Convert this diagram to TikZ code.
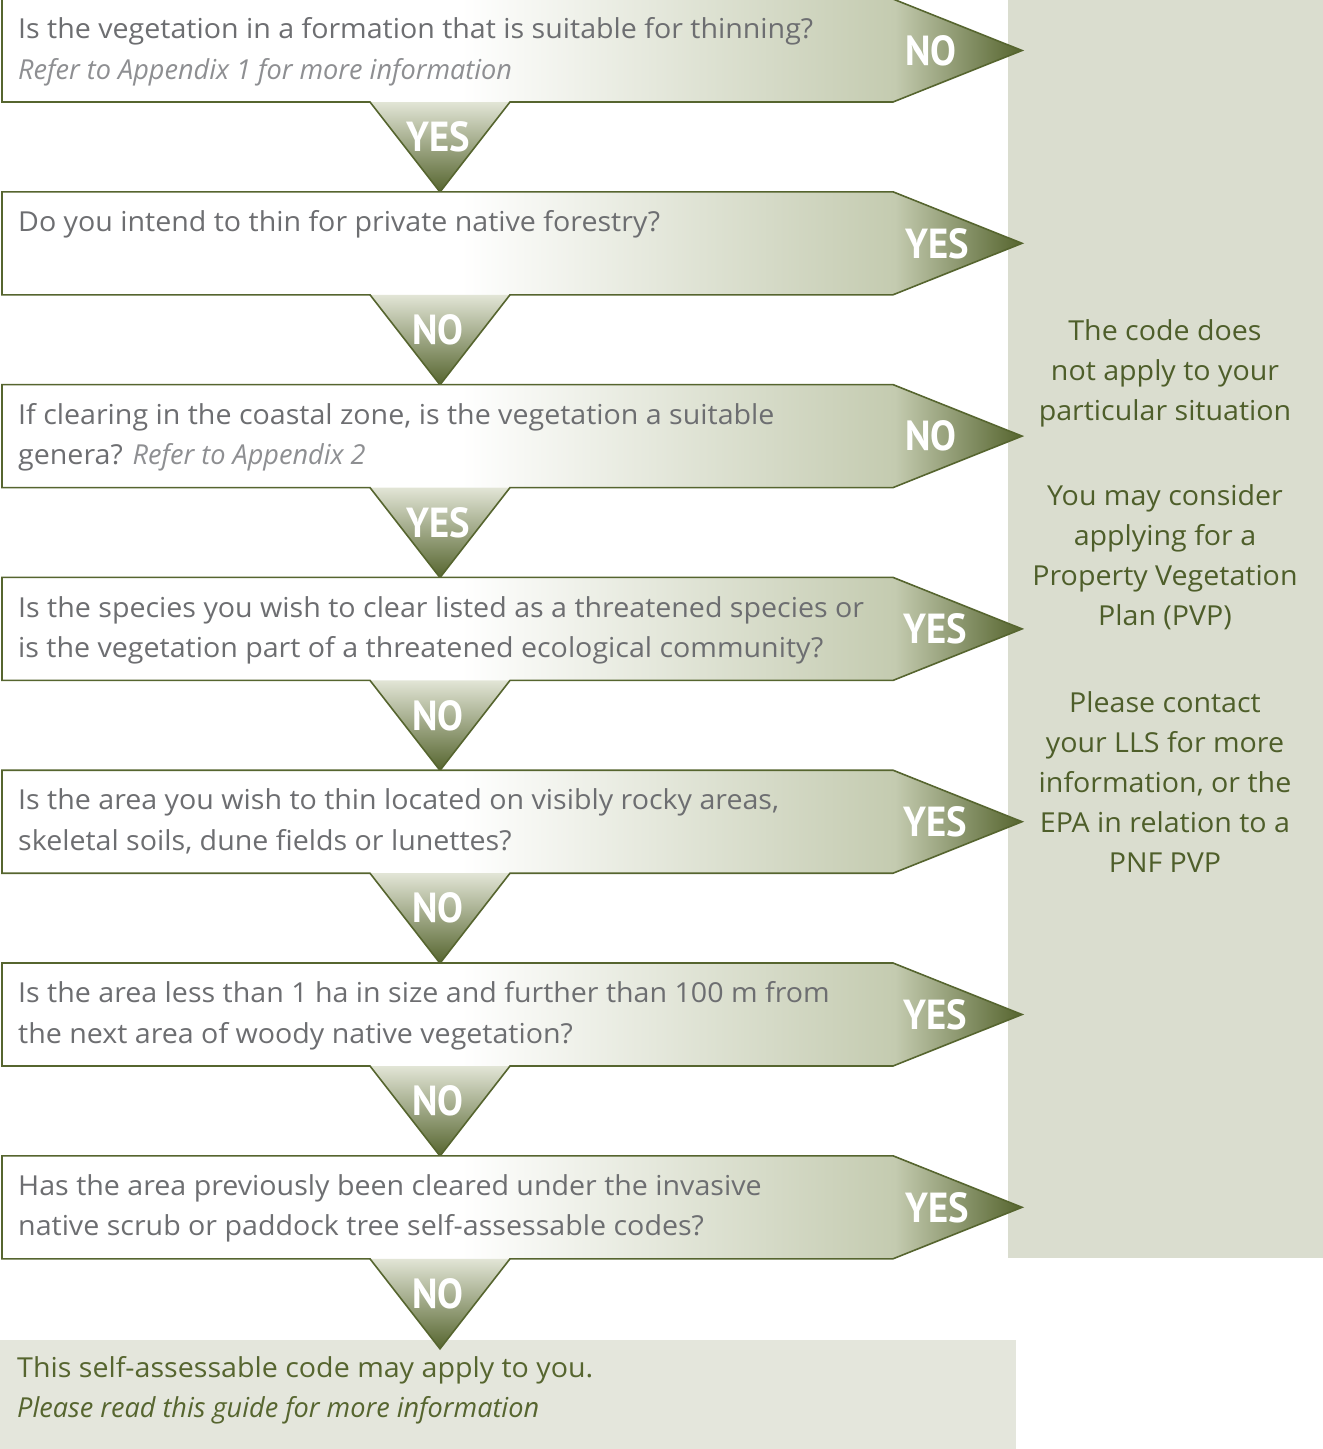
\documentclass[tikz,border=0pt]{standalone}
\usepackage{fontspec}
\setmainfont{Open Sans}[FakeStretch=1.04, ItalicFeatures={FakeStretch=0.985}]
\newfontfamily\tagfont[FakeStretch=0.92]{PT Sans}
\usetikzlibrary{calc}

\definecolor{olive}{HTML}{56652F}
\definecolor{oliveLight}{HTML}{C4CBB0}
\definecolor{notchtop}{HTML}{E2E5D6}
\definecolor{panel}{HTML}{DADDCF}
\definecolor{endbox}{HTML}{E4E6DC}
\definecolor{qgray}{HTML}{6D6E71}
\definecolor{igray}{HTML}{8E8F92}
\definecolor{paneltext}{HTML}{4E5E2A}

% fade of a question box: white on the left, olive at the tip
\pgfdeclarehorizontalshading{boxfade}{100bp}{color(0bp)=(white); color(47.5bp)=(white); color(68.75bp)=(oliveLight); color(75bp)=(olive); color(100bp)=(olive)}
% fade of a downward notch: light at the top, olive at the tip
\pgfdeclareverticalshading{notchfade}{100bp}{color(0bp)=(olive); color(25bp)=(olive); color(75bp)=(notchtop); color(100bp)=(notchtop)}

\tikzset{
  qtext/.style={anchor=north west, inner sep=0pt, align=left, text=qgray,
    font=\fontsize{27.5}{40.5}\selectfont},
  tag/.style={text=white, inner sep=0pt, font=\tagfont\bfseries\fontsize{42}{44}\selectfont},
  paneltxt/.style={align=center, text=paneltext, inner sep=0pt,
    font=\fontsize{27.5}{40}\selectfont},
  outline/.style={draw=olive, line width=1.6pt, line join=miter},
}

\begin{document}
\begin{tikzpicture}[x=1pt,y=-1pt]
\useasboundingbox (0,0) rectangle (1323,1449);
\clip (0,0) rectangle (1323,1449);

% side panel and closing box
\fill[panel] (1008,0) rectangle (1323,1258);
\fill[endbox] (0,1340) rectangle (1016,1449);

% question boxes with their notches
\foreach \k in {0,...,6}{
  \pgfmathsetmacro{\t}{-1+192.8*\k}
  \pgfmathsetmacro{\m}{\t+51.5}
  \pgfmathsetmacro{\b}{\t+103}
  \pgfmathsetmacro{\n}{\b+90}
  \coordinate (top\k) at (2,\t);
  \coordinate (tip\k) at (1022,\m);
  \coordinate (notch\k) at (440,\n);
  \shade[shading=boxfade] (2,\t) -- (893,\t) -- (1022,\m) -- (893,\b) -- (2,\b) -- cycle;
  \shade[shading=notchfade] (370,\b) -- (440,\n) -- (510,\b) -- cycle;
  \draw[outline] (2,\t) -- (893,\t) -- (1022,\m) -- (893,\b) -- (510,\b)
     -- (440,\n) -- (370,\b) -- (2,\b) -- cycle;
}

% questions
\node[qtext] (q1) at ($(top0)+(16,18.5)$) {Is the vegetation in a formation that is suitable for thinning?\\ \textit{\color{igray}Refer to Appendix 1 for more information}};
\node[qtext] (q2) at ($(top1)+(16,18.5)$) {Do you intend to thin for private native forestry?};
\node[qtext] (q3) at ($(top2)+(16,18.5)$) {If clearing in the coastal zone, is the vegetation a suitable\\ genera? \textit{\color{igray}Refer to Appendix 2}};
\node[qtext] (q4) at ($(top3)+(16,18.5)$) {Is the species you wish to clear listed as a threatened species or\\ is the vegetation part of a threatened ecological community?};
\node[qtext] (q5) at ($(top4)+(16,18.5)$) {Is the area you wish to thin located on visibly rocky areas,\\ skeletal soils, dune fields or lunettes?};
\node[qtext] (q6) at ($(top5)+(16,18.5)$) {Is the area less than 1 ha in size and further than 100 m from\\ the next area of woody native vegetation?};
\node[qtext] (q7) at ($(top6)+(16,18.5)$) {Has the area previously been cleared under the invasive\\ native scrub or paddock tree self-assessable codes?};

% answers pointing right
\node[tag] (r1) at ($(tip0)+(-91,0)$) {NO};
\node[tag] (r2) at ($(tip1)+(-85,0)$) {YES};
\node[tag] (r3) at ($(tip2)+(-91,0)$) {NO};
\node[tag] (r4) at ($(tip3)+(-87,0)$) {YES};
\node[tag] (r5) at ($(tip4)+(-87,0)$) {YES};
\node[tag] (r6) at ($(tip5)+(-87,0)$) {YES};
\node[tag] (r7) at ($(tip6)+(-85,0)$) {YES};

% answers pointing down
\node[tag] (d1) at ($(notch0)+(-2,-55)$) {YES};
\node[tag] (d2) at ($(notch1)+(-2,-55)$) {NO};
\node[tag] (d3) at ($(notch2)+(-2,-55)$) {YES};
\node[tag] (d4) at ($(notch3)+(-2,-55)$) {NO};
\node[tag] (d5) at ($(notch4)+(-2,-55)$) {NO};
\node[tag] (d6) at ($(notch5)+(-2,-55)$) {NO};
\node[tag] (d7) at ($(notch6)+(-2,-55)$) {NO};

% side panel advice
\node[paneltxt] (p1) at (1165,373) {The code does\\not apply to your\\particular situation};
\node[paneltxt] (p2) at (1165,557) {You may consider\\applying for a\\Property Vegetation\\Plan (PVP)};
\node[paneltxt] (p3) at (1165,782) {Please contact\\your LLS for more\\information, or the\\EPA in relation to a\\PNF PVP};

% outcome
\node[qtext, text=olive] (out) at (17,1356) {This self-assessable code may apply to you.\\ \textit{Please read this guide for more information}};
\end{tikzpicture}
\end{document}
